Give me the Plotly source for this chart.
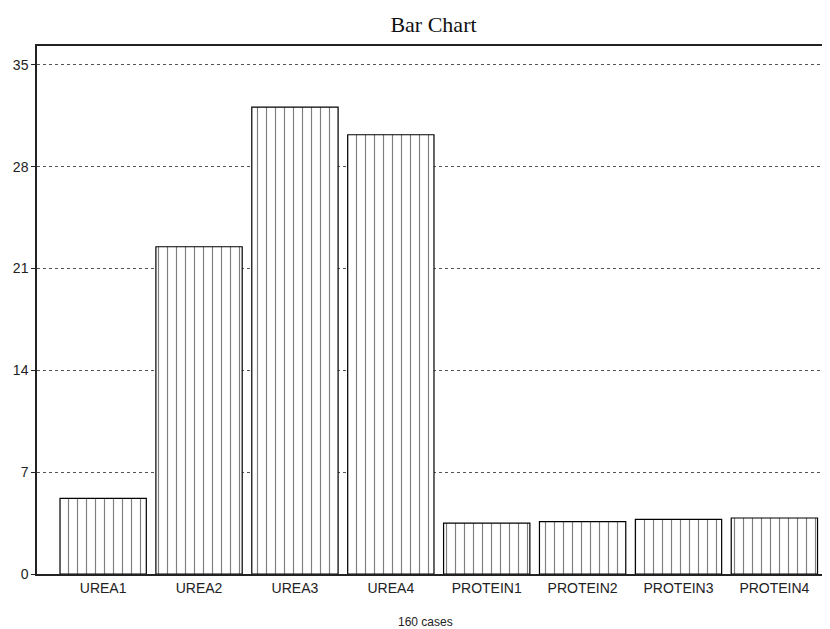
import plotly.graph_objects as go

categories = ["UREA1", "UREA2", "UREA3", "UREA4", "PROTEIN1", "PROTEIN2", "PROTEIN3", "PROTEIN4"]
values = [5.2, 22.5, 32.1, 30.2, 3.5, 3.6, 3.75, 3.85]
y_ticks = [0, 7, 14, 21, 28, 35]

# page body has ~8px default margin; compensate
W, H = 822, 621
fig = go.Figure(go.Bar(
    x=categories, y=values, width=0.9,
    marker=dict(color="white", line=dict(color="black", width=1.2),
                pattern=dict(shape="|", fgcolor="black", bgcolor="white", size=9, solidity=0.13)),
))

fig.update_layout(
    width=W, height=H,
    margin=dict(l=29, r=0, t=38, b=55),
    paper_bgcolor="white", plot_bgcolor="white",
    showlegend=False,
    title=dict(text="Bar Chart", x=0.5, xref="paper", xanchor="center", y=1 - 16/H, yanchor="middle",
               font=dict(family="Liberation Serif", size=22, color="#111")),
    font=dict(family="Liberation Sans", color="#222"),
)
fig.update_xaxes(range=[-0.69, 7.58], showline=True, linecolor="#222", linewidth=1.5, mirror=True,
                 showgrid=False, ticks="", tickfont=dict(size=14, color="#222"))
fig.update_yaxes(range=[0, 36.3], tickvals=y_ticks, showline=True, linecolor="#222", linewidth=1.5,
                 showgrid=True, gridcolor="#555", griddash="dot", gridwidth=1, zeroline=False,
                 ticks="outside", ticklen=4, tickcolor="#222", tickfont=dict(size=14, color="#222"))
fig.add_annotation(text="160 cases", xref="paper", yref="paper", x=0.49, y=0, yshift=-48,
                   yanchor="middle", showarrow=False, font=dict(size=12, color="#222"))

fig.write_html("out.html")
